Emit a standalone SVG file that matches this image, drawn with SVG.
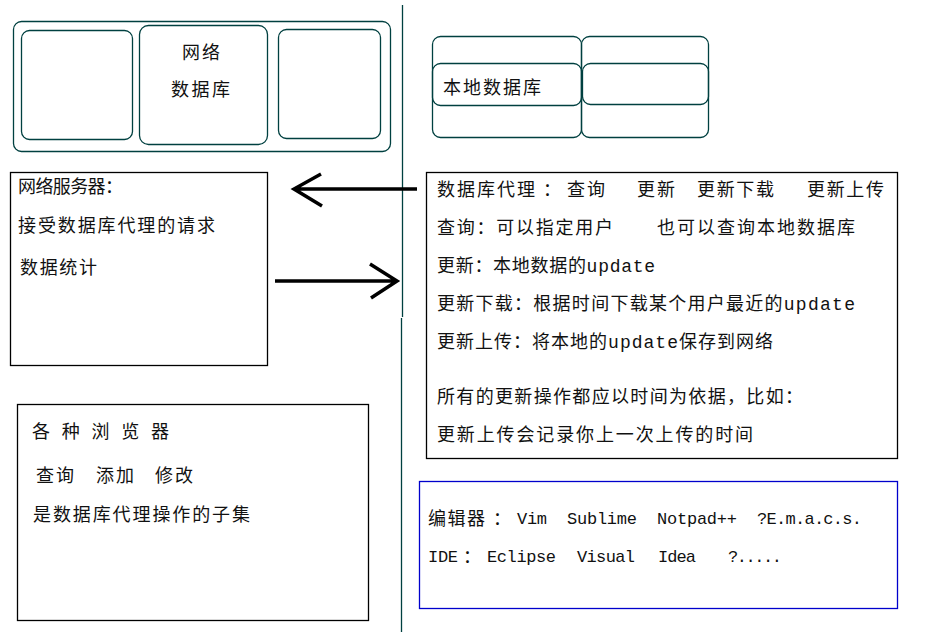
<svg xmlns="http://www.w3.org/2000/svg" width="947" height="632" viewBox="0 0 947 632">
<style>
.rr{fill:none;stroke:#004040;stroke-width:1.3}
.bx{fill:none;stroke:#000;stroke-width:1.3}
.bl{fill:none;stroke:#0000cc;stroke-width:1.3}
.arr{fill:none;stroke:#000;stroke-width:3.5;stroke-linecap:butt}
.s{font-family:"Noto Sans CJK SC","Noto Sans",sans-serif;font-size:18px;fill:#111}
.m{font-family:"Liberation Mono","Noto Sans CJK SC",monospace;font-size:18px;fill:#111}
.e{font-family:"Liberation Mono","Noto Sans CJK SC",monospace;font-size:17px;fill:#111}
</style>
<rect width="947" height="632" fill="#fff"/>
<g id="net-db">
<rect class="rr" x="13.5" y="21.5" width="377" height="130" rx="8"/>
<rect class="rr" x="21.5" y="30.5" width="111" height="109" rx="8"/>
<rect class="rr" x="139.5" y="25.5" width="128" height="119" rx="9"/>
<rect class="rr" x="278.5" y="29.5" width="102" height="109" rx="8"/>
<text class="s" x="182" y="59" textLength="38" lengthAdjust="spacing">网络</text>
<text class="s" x="171" y="96" textLength="59" lengthAdjust="spacing">数据库</text>
</g>
<g id="local-db">
<rect class="rr" x="432.5" y="36.5" width="149" height="101" rx="8"/>
<rect class="rr" x="432.5" y="63.5" width="149" height="42" rx="8"/>
<rect class="rr" x="581.5" y="36.5" width="127" height="101" rx="8"/>
<rect class="rr" x="582.5" y="63.5" width="126" height="41" rx="8"/>
<text class="s" x="443" y="94" textLength="98" lengthAdjust="spacing">本地数据库</text>
</g>
<g id="divider">
<line x1="402.5" y1="5" x2="402.5" y2="317" stroke="#004040" stroke-width="1.3"/>
<line x1="401.5" y1="318" x2="401.5" y2="632" stroke="#004040" stroke-width="1.3"/>
</g>
<g id="server">
<rect class="bx" x="10.5" y="172.5" width="257" height="193"/>
<text class="s" x="18" y="193" textLength="105" lengthAdjust="spacing">网络服务器：</text>
<text class="s" x="18" y="232" textLength="197" lengthAdjust="spacing">接受数据库代理的请求</text>
<text class="s" x="20" y="274" textLength="77" lengthAdjust="spacing">数据统计</text>
</g>
<g id="connectors">
<path class="arr" d="M417 189H294M321 174L294 189L322 206"/>
<path class="arr" d="M275 281H397M370 264L397 281L371 298"/>
</g>
<g id="agent">
<rect class="bx" x="426.5" y="172.5" width="471" height="286"/>
<text class="m" x="437" y="196" textLength="98" lengthAdjust="spacing">数据库代理</text>
<text class="m" x="543" y="196">：</text>
<text class="m" x="567" y="196" textLength="38" lengthAdjust="spacing">查询</text>
<text class="m" x="637" y="196" textLength="38" lengthAdjust="spacing">更新</text>
<text class="m" x="697" y="196" textLength="77" lengthAdjust="spacing">更新下载</text>
<text class="m" x="807" y="196" textLength="77" lengthAdjust="spacing">更新上传</text>
<text class="m" x="437" y="234" textLength="176" lengthAdjust="spacing">查询：可以指定用户</text>
<text class="m" x="657" y="234" textLength="198" lengthAdjust="spacing">也可以查询本地数据库</text>
<text class="m" x="437" y="272" textLength="218" lengthAdjust="spacing">更新：本地数据的update</text>
<text class="m" x="437" y="310" textLength="418" lengthAdjust="spacing">更新下载：根据时间下载某个用户最近的update</text>
<text class="m" x="437" y="348" textLength="336" lengthAdjust="spacing">更新上传：将本地的update保存到网络</text>
<text class="m" x="437" y="403" textLength="366" lengthAdjust="spacing">所有的更新操作都应以时间为依据，比如：</text>
<text class="m" x="437" y="441" textLength="316" lengthAdjust="spacing">更新上传会记录你上一次上传的时间</text>
</g>
<g id="browsers">
<rect class="bx" x="17.5" y="404.5" width="351" height="216"/>
<text class="s" x="32" y="438" textLength="137" lengthAdjust="spacing">各 种 浏 览 器</text>
<text class="s" x="36" y="482" textLength="38" lengthAdjust="spacing">查询</text>
<text class="s" x="96" y="482" textLength="38" lengthAdjust="spacing">添加</text>
<text class="s" x="155" y="482" textLength="38" lengthAdjust="spacing">修改</text>
<text class="s" x="33" y="521" textLength="217" lengthAdjust="spacing">是数据库代理操作的子集</text>
</g>
<g id="editors">
<rect class="bl" x="419.5" y="481.5" width="478" height="127"/>
<text class="m" x="428" y="525" textLength="57" lengthAdjust="spacing">编辑器</text>
<text class="m" x="493" y="525">：</text>
<text class="e" x="517" y="524" textLength="30" lengthAdjust="spacing">Vim</text>
<text class="e" x="567" y="524" textLength="70" lengthAdjust="spacing">Sublime</text>
<text class="e" x="657" y="524" textLength="80" lengthAdjust="spacing">Notpad++</text>
<text class="e" x="757" y="524" textLength="105" lengthAdjust="spacing">?E.m.a.c.s.</text>
<text class="e" x="428" y="562" textLength="30" lengthAdjust="spacing">IDE</text>
<text class="m" x="463" y="563">：</text>
<text class="e" x="487" y="562" textLength="69" lengthAdjust="spacing">Eclipse</text>
<text class="e" x="577" y="562" textLength="58" lengthAdjust="spacing">Visual</text>
<text class="e" x="658" y="562" textLength="38" lengthAdjust="spacing">Idea</text>
<text class="e" x="728" y="562" textLength="54" lengthAdjust="spacing">?.....</text>
</g>
</svg>
